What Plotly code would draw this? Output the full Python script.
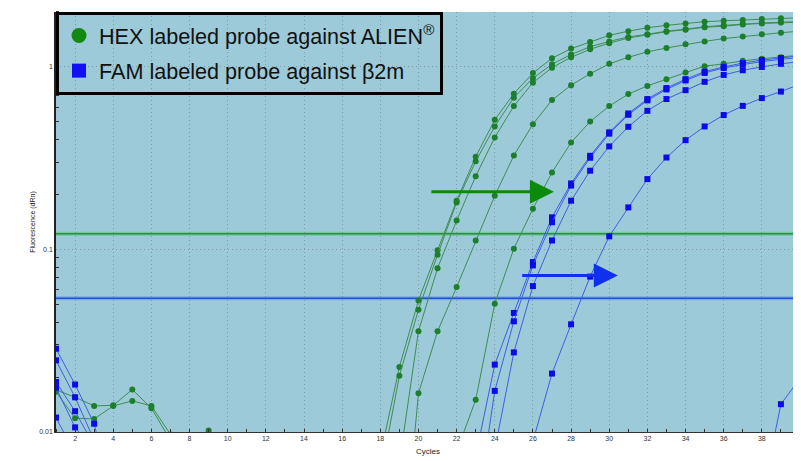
import math
import plotly.graph_objects as go

cycles = list(range(1, 41))

hex_1 = [0.0170, 0.0155, 0.0139, 0.0140, 0.0171, 0.0135,
         0.0090, 0.0051, 0.0047, 0.0055, 0.0049, 0.0044, 0.0052, 0.0046, 0.0050, 0.0043, 0.0058, 0.0074,
         0.0227, 0.0526, 0.0989, 0.185, 0.322, 0.513, 0.714, 0.925, 1.116, 1.26, 1.37, 1.49, 1.57,
         1.64, 1.69, 1.73, 1.77, 1.79, 1.81, 1.83, 1.85, 1.86]
hex_2 = [0.0166, 0.0119, 0.0118, 0.0139, 0.0148, 0.0139,
         0.0097, 0.0045, 0.0050, 0.0042, 0.0047, 0.0053, 0.0044, 0.0049, 0.0041, 0.0046, 0.0052, 0.0057,
         0.0203, 0.0468, 0.0935, 0.181, 0.304, 0.472, 0.679, 0.867, 1.035, 1.17, 1.29, 1.38, 1.46,
         1.51, 1.57, 1.61, 1.66, 1.69, 1.72, 1.74, 1.76, 1.77]
hex_3 = [0.0060, 0.0052, 0.0047, 0.0055, 0.0049, 0.0053, 0.0046, 0.0062, 0.0102, 0.0058, 0.0050, 0.0045,
         0.0048, 0.0053, 0.0047, 0.0051, 0.0049, 0.0055,
         0.0068, 0.0356, 0.079, 0.144, 0.252, 0.411, 0.610, 0.820, 0.991, 1.13, 1.25, 1.35, 1.44,
         1.50, 1.56, 1.60, 1.65, 1.67, 1.71, 1.73, 1.75, 1.76]
hex_4 = [0.0052, 0.0046, 0.0050, 0.0043, 0.0048, 0.0055, 0.0047, 0.0051, 0.0044, 0.0049, 0.0053, 0.0046,
         0.0050, 0.0042, 0.0047, 0.0045, 0.0038, 0.0021,
         0.0012, 0.0163, 0.0356, 0.0622, 0.112, 0.197, 0.327, 0.486, 0.658, 0.794, 0.918, 1.04, 1.13,
         1.21, 1.27, 1.33, 1.38, 1.43, 1.47, 1.51, 1.54, 1.57]
hex_5 = [0.0049, 0.0053, 0.0046, 0.0051, 0.0044, 0.0048, 0.0052, 0.0045, 0.0050, 0.0047, 0.0043, 0.0049,
         0.0054, 0.0046, 0.0051, 0.0044, 0.0048, 0.0053, 0.0047, 0.0050, 0.0058,
         0.0078, 0.0150, 0.0505, 0.101, 0.167, 0.264, 0.386, 0.502, 0.610, 0.710,
         0.787, 0.857, 0.931, 1.01, 1.04, 1.08, 1.11, 1.13, 1.16]

fam_1 = [0.0286, 0.0182, 0.0111, 0.0042,
         0.0046, 0.0051, 0.0044, 0.0049, 0.0053, 0.0045, 0.0050, 0.0047, 0.0043, 0.0052, 0.0046, 0.0049,
         0.0044, 0.0051, 0.0048, 0.0045, 0.0050, 0.0047,
         0.0074, 0.0234, 0.0449, 0.0853, 0.150, 0.230, 0.326, 0.438, 0.556, 0.667, 0.766, 0.857, 0.943,
         1.00, 1.05, 1.09, 1.12, 1.15]
fam_2 = [0.0247, 0.0155, 0.0090,
         0.0048, 0.0044, 0.0050, 0.0046, 0.0052, 0.0043, 0.0049, 0.0045, 0.0051, 0.0047, 0.0044, 0.0050,
         0.0046, 0.0053, 0.0045, 0.0049, 0.0042, 0.0039, 0.0031,
         0.0033, 0.0168, 0.0404, 0.0818, 0.141, 0.224, 0.318, 0.431, 0.547, 0.656, 0.753, 0.843, 0.927,
         0.987, 1.03, 1.07, 1.10, 1.13]
fam_3 = [0.0188, 0.0130, 0.0084,
         0.0047, 0.0051, 0.0044, 0.0049, 0.0053, 0.0046, 0.0050, 0.0043, 0.0048, 0.0052, 0.0045, 0.0049,
         0.0047, 0.0051, 0.0044, 0.0050, 0.0046, 0.0048, 0.0052, 0.0055,
         0.0080, 0.0273, 0.063, 0.112, 0.185, 0.270, 0.367, 0.470, 0.575, 0.667, 0.746, 0.829, 0.904,
         0.959, 1.00, 1.04, 1.07]
fam_4 = [0.0175, 0.0106, 0.0079,
         0.0045, 0.0050, 0.0046, 0.0052, 0.0044, 0.0049, 0.0047, 0.0051, 0.0043, 0.0048, 0.0053, 0.0046,
         0.0050, 0.0044, 0.0049, 0.0045, 0.0051, 0.0047, 0.0050, 0.0046, 0.0049, 0.0052,
         0.0089, 0.0209, 0.0389, 0.071, 0.118, 0.170, 0.243, 0.319, 0.397, 0.472, 0.545, 0.612, 0.675,
         0.733, 0.804]
fam_5 = [0.0120, 0.0076,
         0.0048, 0.0052, 0.0045, 0.0050, 0.0047, 0.0043, 0.0049, 0.0053, 0.0046, 0.0051, 0.0044, 0.0048,
         0.0050, 0.0045, 0.0052, 0.0047, 0.0049, 0.0043, 0.0051, 0.0046, 0.0050, 0.0044, 0.0048, 0.0053,
         0.0045, 0.0049, 0.0047, 0.0051, 0.0044, 0.0050, 0.0046, 0.0048, 0.0052, 0.0045, 0.0047, 0.0044,
         0.0142, 0.0197]

hex_series = [hex_1, hex_2, hex_3, hex_4, hex_5]
fam_series = [fam_1, fam_2, fam_3, fam_4, fam_5]

threshold_hex = 0.122
threshold_fam = 0.054

x_ticks = list(range(2, 41, 2))
y_ticks = [0.01, 0.1, 1]
y_ticktext = ["0.01", "0.1", "1"]

legend_names = ["HEX labeled probe against ALIEN<sup>®</sup>", "FAM labeled probe against β2m"]

HEX_LINE = "#3f8d55"
HEX_MARK = "#1d7f2b"
FAM_LINE = "#3d5fe3"
FAM_MARK = "#0b0be8"
GRID = "#7b98a6"

fig = go.Figure()

# threshold lines (soft halo + core)
fig.add_hline(y=threshold_hex, line=dict(color="#72c99a", width=4), layer="below")
fig.add_hline(y=threshold_hex, line=dict(color="#2f8a4c", width=1.5), layer="below")
fig.add_hline(y=threshold_fam, line=dict(color="#7aa8ee", width=4), layer="below")
fig.add_hline(y=threshold_fam, line=dict(color="#2450d0", width=1.5), layer="below")

for s in hex_series:
    fig.add_trace(go.Scatter(x=cycles, y=s, mode="lines+markers",
                             line=dict(color=HEX_LINE, width=1),
                             marker=dict(symbol="circle", size=6, color=HEX_MARK),
                             showlegend=False))
for s in fam_series:
    fig.add_trace(go.Scatter(x=cycles, y=s, mode="lines+markers",
                             line=dict(color=FAM_LINE, width=1),
                             marker=dict(symbol="square", size=6, color=FAM_MARK),
                             showlegend=False))

# legend entries
fig.add_trace(go.Scatter(x=[None], y=[None], mode="markers", name=legend_names[0],
                         marker=dict(symbol="circle", size=15, color="#128a12"),
                         legendgroup="a"))
fig.add_trace(go.Scatter(x=[None], y=[None], mode="markers", name=legend_names[1],
                         marker=dict(symbol="square", size=14, color="#1010f5"),
                         legendgroup="b"))

fig.add_annotation(x=27.1, y=math.log10(0.207), ax=20.6, ay=math.log10(0.207),
                   xref="x", yref="y", axref="x", ayref="y", text="", showarrow=True,
                   arrowhead=2, arrowsize=1.6, arrowwidth=3, arrowcolor="#0b8a0b")
fig.add_annotation(x=30.45, y=math.log10(0.072), ax=25.36, ay=math.log10(0.072),
                   xref="x", yref="y", axref="x", ayref="y", text="", showarrow=True,
                   arrowhead=2, arrowsize=1.6, arrowwidth=3, arrowcolor="#1030f0")

# the page places the figure 8px in from the top-left corner
fig.update_layout(
    width=793, height=453,
    margin=dict(l=48, r=1, t=4, b=29, autoexpand=False),
    paper_bgcolor="white", plot_bgcolor="#9ccad8",
    font=dict(family="Liberation Sans, Arial, sans-serif", color="#222"),
    legend=dict(x=0, y=1, xanchor="left", yanchor="top", bgcolor="rgba(0,0,0,0)",
                bordercolor="black", borderwidth=3, font=dict(size=21.6, color="#111"),
                traceorder="grouped", tracegroupgap=4, itemsizing="trace"),
)
fig.update_xaxes(range=[1, 40], tickvals=x_ticks, ticks="", showgrid=True, automargin=False,
                 ticklabeloverflow="allow",
                 gridcolor=GRID, griddash="1px,3px", gridwidth=1,
                 showline=True, linecolor="#333", linewidth=1, zeroline=False,
                 tickfont=dict(size=7, color="#333"),
                 title=dict(text="Cycles", font=dict(size=8, color="#222"), standoff=6),
                 minor=dict(dtick=1, ticks="inside", ticklen=3, tickcolor="#333", showgrid=False))
fig.update_yaxes(type="log", range=[-2, 0.301], tickvals=y_ticks, ticktext=y_ticktext, automargin=False,
                 ticks="", showgrid=True, gridcolor=GRID, griddash="1px,3px", gridwidth=1,
                 showline=True, linecolor="#222", linewidth=1.5, zeroline=False,
                 tickfont=dict(size=7, color="#333"),
                 title=dict(text="Fluorescence (dRn)", font=dict(size=7, color="#222"), standoff=3),
                 minor=dict(ticks="inside", ticklen=3, tickcolor="#333", showgrid=False,
                            tickvals=[0.02, 0.03, 0.04, 0.05, 0.06, 0.07, 0.08, 0.09,
                                      0.2, 0.3, 0.4, 0.5, 0.6, 0.7, 0.8, 0.9, 2]))

fig.write_html("out.html")
